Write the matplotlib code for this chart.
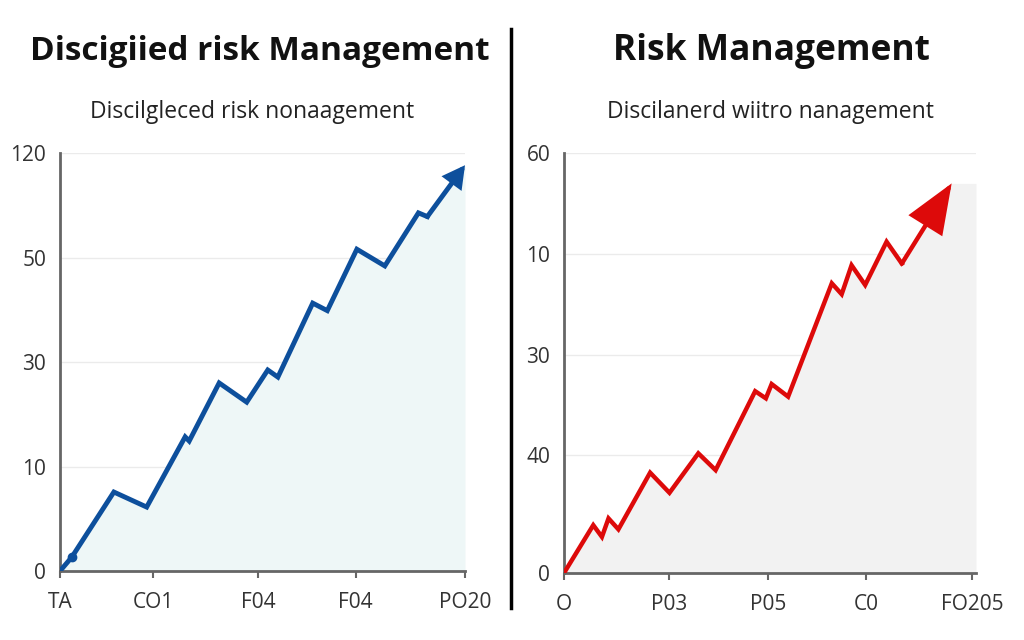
import matplotlib.pyplot as plt

plt.rcParams['font.family'] = ['Open Sans', 'DejaVu Sans']

# left panel: disciplined line (x, y in axis percent)
left_x = [0, 2.9, 13.3, 21.4, 30.9, 31.9, 39.3, 46.1, 51.3, 53.8, 62.4, 66.0, 73.3, 80.2, 88.5, 90.7, 100]
left_y = [0, 3.3, 18.9, 15.3, 32.1, 31.1, 45.0, 40.4, 48.1, 46.4, 64.1, 62.3, 77.0, 73.0, 85.7, 84.8, 97.1]
left_xticks = [0, 23, 49, 73, 100]
left_xlabels = ['TA', 'CO1', 'F04', 'F04', 'PO20']
left_yticks = [0, 25, 50, 75, 100]
left_ylabels = ['0', '10', '30', '50', '120']

# right panel
right_x = [0, 7.1, 9.2, 10.8, 13.2, 20.9, 25.6, 32.6, 36.8, 46.4, 49.0, 50.4, 54.4,
           65.0, 67.4, 69.8, 73.1, 78.3, 82.0, 94.1]
right_y = [0, 11.4, 8.6, 13.0, 10.4, 23.9, 19.1, 28.5, 24.5, 43.3, 41.6, 45.0, 42.0,
           69.0, 66.4, 73.3, 68.6, 78.9, 73.7, 92.8]
right_xticks = [0, 25.5, 49.5, 73.3, 99]
right_xlabels = ['O', 'P03', 'P05', 'C0', 'FO205']
right_yticks = [0, 28, 52, 76, 100]
right_ylabels = ['0', '40', '30', '10', '60']


def draw_panel(ax, xs, ys, xticks, xlabels, yticks, ylabels, color, fill, lw, head):
    # fill under the line, carried to the right edge at tip height
    ax.fill_between(xs + [100], ys + [ys[-1]], 0, color=fill, lw=0, zorder=1)
    ax.plot(xs[:-1], ys[:-1], color=color, lw=lw, solid_joinstyle='miter', zorder=3)
    ax.annotate('', xy=(xs[-1], ys[-1]), xytext=(xs[-2], ys[-2]),
                arrowprops=dict(arrowstyle=head, color=color, lw=lw, mutation_scale=20,
                                shrinkA=0, shrinkB=0, joinstyle='miter'),
                zorder=4)
    ax.set_xlim(0, 100)
    ax.set_ylim(0, 100)
    ax.set_xticks(xticks)
    ax.set_xticklabels(xlabels)
    ax.set_yticks(yticks)
    ax.set_yticklabels(ylabels)
    ax.grid(axis='y', color='#ebebeb', lw=1, zorder=0)
    for s in ['top', 'right']:
        ax.spines[s].set_visible(False)
    for s in ['left', 'bottom']:
        ax.spines[s].set_color('#666666')
        ax.spines[s].set_linewidth(2)
    ax.tick_params(axis='x', length=5, width=1.5, color='#666666', pad=10,
                   labelsize=15, labelcolor='#333333')
    ax.tick_params(axis='y', length=0, pad=10, labelsize=15, labelcolor='#333333')
    ax.set_axisbelow(True)


fig = plt.figure(figsize=(10.24, 6.4), dpi=100)

ax1 = fig.add_axes([0.0586, 0.1078, 0.3955, 0.653])
draw_panel(ax1, left_x, left_y, left_xticks, left_xlabels, left_yticks, left_ylabels,
           '#0d4f9c', '#eef7f7', 3.5, '-|>,head_length=0.55,head_width=0.3')
ax1.plot(left_x[1], left_y[1], 'o', color='#0d4f9c', ms=6, zorder=5)

ax2 = fig.add_axes([0.5508, 0.1047, 0.4023, 0.656])
draw_panel(ax2, right_x, right_y, right_xticks, right_xlabels, right_yticks, right_ylabels,
           '#dd0a0a', '#f2f2f2', 3.2, '-|>,head_length=1.5,head_width=0.6')

fig.text(0.254, 0.92, 'Discigiied risk Management', ha='center', va='center',
         fontsize=24, fontweight='bold', color='#111111')
fig.text(0.753, 0.92, 'Risk Management', ha='center', va='center',
         fontsize=25.5, fontweight='bold', color='#111111')
fig.text(0.246, 0.825, 'Discilgleced risk nonaagement', ha='center', va='center',
         fontsize=16.5, color='#222222')
fig.text(0.752, 0.825, 'Discilanerd wiitro nanagement', ha='center', va='center',
         fontsize=16.5, color='#222222')

# black divider between the two panels
fig.add_artist(plt.Line2D([0.4995, 0.4995], [0.05, 0.955], color='black', lw=2.5))

fig.savefig('out.png', dpi=100)
